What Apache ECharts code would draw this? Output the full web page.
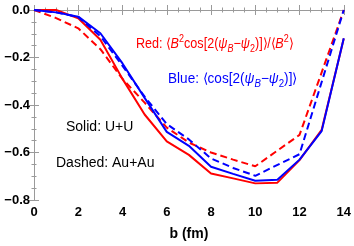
<!DOCTYPE html>
<html><head><meta charset="utf-8">
<script src="https://cdn.jsdelivr.net/npm/echarts@6/dist/echarts.min.js"></script>
<style>html,body{margin:0;padding:0;background:#fff}#c{width:354px;height:246px}</style>
</head><body><div id="c"></div>
<script>
// impact parameter b (fm)
const bSolid = [0,1,2,3,4,5,6,7,8,9,10,11,12,13,14];
const bDashed = [0,1,2,3,4,5,6,7,8,9,10,12,14];
// U+U (solid)
const redSolid  = [0, 0, -0.035, -0.125, -0.29, -0.44, -0.553, -0.61, -0.688, -0.709, -0.73, -0.727, -0.632, -0.505, -0.12];
const blueSolid = [0, -0.01, -0.028, -0.098, -0.225, -0.37, -0.513, -0.572, -0.66, -0.69, -0.719, -0.715, -0.63, -0.51, -0.119];
// Au+Au (dashed)
const redDashed  = [0, -0.034, -0.077, -0.165, -0.29, -0.39, -0.495, -0.558, -0.6, -0.63, -0.658, -0.526, 0];
const blueDashed = [0, -0.01, -0.03, -0.11, -0.235, -0.365, -0.48, -0.545, -0.625, -0.665, -0.698, -0.607, 0];
const xTicks = [0,2,4,6,8,10,12,14];
const yTicks = [-0.8,-0.6,-0.4,-0.2,0];

const pairs = (xs, ys) => xs.map((x,i)=>[x, ys[i]]);
const FONT = 'Liberation Sans, Arial, sans-serif';
const RED = '#ff0000', BLUE = '#0000ff';

const chart = echarts.init(document.getElementById('c'), null, {renderer:'canvas'});
const axisCommon = {
  axisLine:{show:true, lineStyle:{color:'#9a9a9a', width:1}},
  axisTick:{show:true, inside:true, length:5, lineStyle:{color:'#9a9a9a'}},
  minorTick:{show:true, splitNumber:4, length:2.5, lineStyle:{color:'#9a9a9a'}},
  splitLine:{show:false}
};
function mkLine(name, data, color, dashed){
  return {type:'line', name, data, showSymbol:false, symbol:'none', clip:false,
    lineStyle:{color, width:2, type: dashed ? [7,4] : 'solid'}, itemStyle:{color}, z:2};
}
function richSet(color){
  return {
    n:{fontFamily:FONT, fontSize:14, lineHeight:20, fill:color, verticalAlign:'middle'},
    i:{fontFamily:FONT, fontSize:14, fontStyle:'italic', lineHeight:20, fill:color, verticalAlign:'middle'},
    sup:{fontFamily:FONT, fontSize:10, lineHeight:20, fill:color, verticalAlign:'top'},
    sub:{fontFamily:FONT, fontSize:10, fontStyle:'italic', lineHeight:20, fill:color, verticalAlign:'bottom'},
    subn:{fontFamily:FONT, fontSize:10, lineHeight:20, fill:color, verticalAlign:'bottom'}
  };
}
chart.setOption({
  animation:false,
  grid:{left:34, right:9, top:10, bottom:45, show:false},
  xAxis:[
    Object.assign({type:'value', min:0, max:14, interval:2, position:'bottom',
      name:'b (fm)', nameLocation:'middle', nameGap:27,
      nameTextStyle:{fontFamily:FONT, fontWeight:'bold', fontSize:14, color:'#000'},
      axisLabel:{fontFamily:FONT, fontWeight:'bold', fontSize:13, color:'#000', margin:6,
        formatter:v=> xTicks.includes(v) ? String(v) : ''}}, axisCommon),
    Object.assign({type:'value', min:0, max:14, interval:2, position:'top',
      axisLabel:{show:false}}, axisCommon)
  ],
  yAxis:[
    Object.assign({type:'value', min:-0.8, max:0, interval:0.2, position:'left',
      axisLabel:{fontFamily:FONT, fontWeight:'bold', fontSize:13, color:'#000', margin:4,
        formatter:v=> Math.abs(v) < 1e-9 ? '0.0' : '\u2212' + Math.abs(v).toFixed(1)}}, axisCommon),
    Object.assign({type:'value', min:-0.8, max:0, interval:0.2, position:'right',
      axisLabel:{show:false}}, axisCommon)
  ],
  series:[
    mkLine('redSolid', pairs(bSolid, redSolid), RED, false),
    mkLine('redDashed', pairs(bDashed, redDashed), RED, true),
    mkLine('blueSolid', pairs(bSolid, blueSolid), BLUE, false),
    mkLine('blueDashed', pairs(bDashed, blueDashed), BLUE, true)
  ],
  graphic:[
    {type:'text', x:136, y:34, scaleX:0.9, originX:0, originY:0, z:10, style:{
      text:'{n|Red: \u27E8}{i|B}{sup|2}{n|cos[2(}{i|\u03C8}{sub|B}{n|\u2212}{i|\u03C8}{subn|2}{n|)]\u27E9/\u27E8}{i|B}{sup|2}{n|\u27E9}',
      fill:RED, font:'14px '+FONT, align:'left', verticalAlign:'top', rich:richSet(RED)}},
    {type:'text', x:168, y:69, scaleX:0.97, originX:0, originY:0, z:10, style:{
      text:'{n|Blue: \u27E8cos[2(}{i|\u03C8}{sub|B}{n|\u2212}{i|\u03C8}{subn|2}{n|)]\u27E9}',
      fill:BLUE, font:'14px '+FONT, align:'left', verticalAlign:'top', rich:richSet(BLUE)}},
    {type:'text', x:66, y:120, z:10, style:{text:'Solid: U+U', fill:'#000', font:'14px '+FONT, align:'left', verticalAlign:'top'}},
    {type:'text', x:56, y:156, z:10, style:{text:'Dashed: Au+Au', fill:'#000', font:'14px '+FONT, align:'left', verticalAlign:'top'}}
  ]
});
</script></body></html>
